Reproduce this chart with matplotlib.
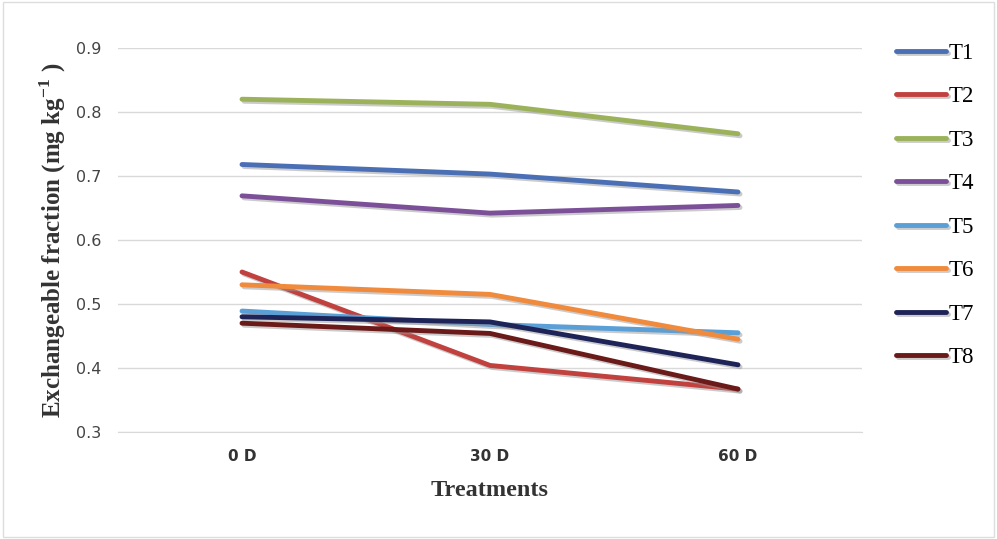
import matplotlib.pyplot as plt
import matplotlib.patheffects as pe

plt.rcParams['mathtext.fontset'] = 'custom'
plt.rcParams['mathtext.rm'] = 'Liberation Serif'
plt.rcParams['mathtext.bf'] = 'Liberation Serif:bold'

days = ['0 D', '30 D', '60 D']
treatments = ['T1', 'T2', 'T3', 'T4', 'T5', 'T6', 'T7', 'T8']

t1 = [0.718, 0.703, 0.675]
t2 = [0.550, 0.404, 0.367]
t3 = [0.820, 0.812, 0.766]
t4 = [0.669, 0.642, 0.654]
t5 = [0.489, 0.468, 0.455]
t6 = [0.530, 0.515, 0.445]
t7 = [0.480, 0.472, 0.405]
t8 = [0.470, 0.454, 0.367]
series = [t1, t2, t3, t4, t5, t6, t7, t8]

colors = ['#4a6fb5', '#c0413e', '#9bb25a', '#7c5099', '#5a9fd6',
          '#f08a3c', '#1e2458', '#6a1a18']

fig = plt.figure(figsize=(9.97, 5.39), dpi=100)
ax = fig.add_axes([118/997, 1-432/539, (862-118)/997, (432-48)/539])

x = range(len(days))
shadow = [pe.SimpleLineShadow(offset=(1.5, -1.5), shadow_color='#999999', alpha=0.5), pe.Normal()]
for name, vals, c in zip(treatments, series, colors):
	ax.plot(x, vals, color=c, lw=3.5, solid_capstyle='round', label=name, path_effects=shadow)

ax.set_xlim(-0.5, 2.5)
ax.set_ylim(0.3, 0.9)
ax.set_yticks([0.3, 0.4, 0.5, 0.6, 0.7, 0.8, 0.9])
ax.set_yticklabels(['0.3', '0.4', '0.5', '0.6', '0.7', '0.8', '0.9'], fontsize=11.5, color='#444444')
ax.set_xticks(list(x))
ax.set_xticklabels(days, fontsize=11, fontweight='bold', color='#333333')
ax.grid(axis='y', color='#d9d9d9', lw=1)
ax.set_axisbelow(True)
for s in ['top', 'right', 'left']:
	ax.spines[s].set_visible(False)
ax.spines['bottom'].set_color('#d9d9d9')
ax.tick_params(length=0, pad=12)

ax.set_ylabel(r'Exchangeable fraction (mg kg$^{\mathbf{-1}}$ )', family='Liberation Serif',
	fontweight='bold', fontsize=18, color='#333333', labelpad=6)
ax.set_xlabel('Treatments', family='Liberation Serif', fontweight='bold',
	fontsize=17.5, color='#333333', labelpad=12)

fig.legend(loc='upper left', bbox_to_anchor=(875/997, 1-22/539), frameon=False,
	prop={'family': 'Liberation Serif', 'size': 16.5}, handlelength=2.2,
	labelspacing=0.98, handletextpad=0.1)

fig.patches.append(plt.Rectangle((0.003, 0.003), 0.994, 0.994, transform=fig.transFigure,
	fill=False, edgecolor='#dddddd', lw=1))

plt.savefig('out.png')
